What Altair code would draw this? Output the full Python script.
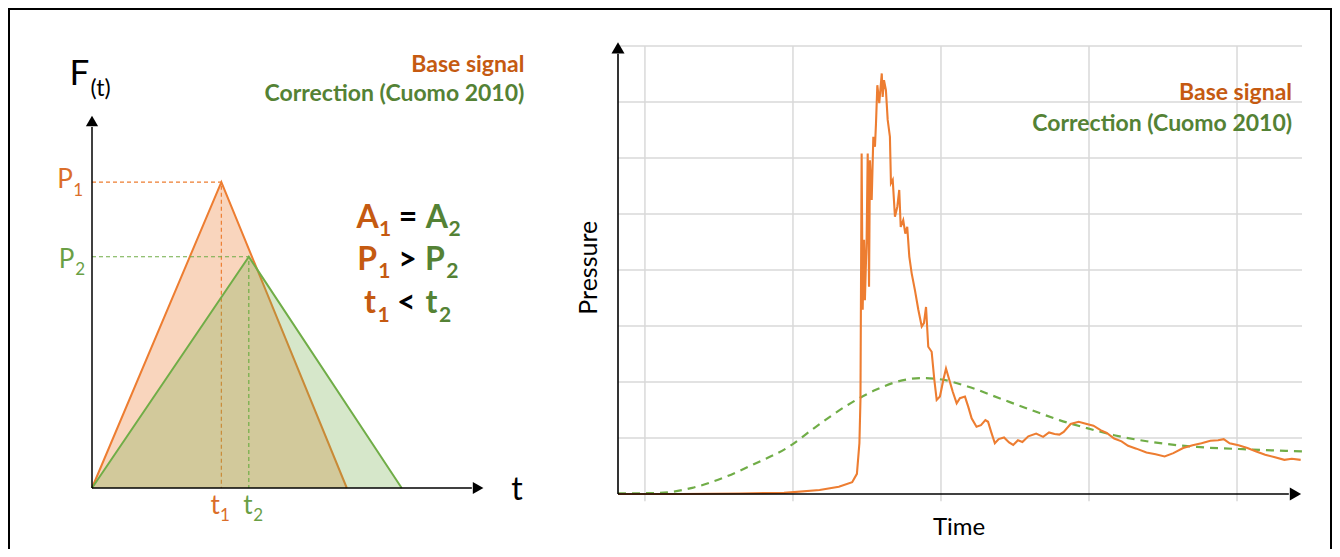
import altair as alt
import pandas as pd

# ---------------- data ----------------
# Left schematic (arbitrary units): triangular loads
base_tri_t = [0, 33, 65]
base_tri_f = [0, 82, 0]
corr_tri_t = [0, 40, 79]
corr_tri_f = [0, 62, 0]
P1, T1 = 82, 33
P2, T2 = 62, 40

# Right panel: pressure-time history (arbitrary units)
sig_t = [8.18, 12.4, 16.4, 19.4, 21.8, 23.1, 24.0, 24.32, 24.49, 24.56, 24.64, 24.71, 24.8, 24.86,
         24.98, 25.05, 25.14, 25.2, 25.32, 25.43, 25.54, 25.61, 25.7, 25.83, 26.0, 26.06, 26.15,
         26.28, 26.4, 26.55, 26.62, 26.74, 26.89, 27.05, 27.18, 27.28, 27.45, 27.59, 27.72, 27.86,
         28.02, 28.24, 28.47, 28.7, 28.85, 28.99, 29.14, 29.37, 29.55, 29.71, 29.93, 30.16, 30.34,
         30.56, 30.79, 31.06, 31.28, 31.62, 31.84, 32.07, 32.4, 32.7, 33.0, 33.18, 33.4, 33.64,
         33.9, 34.26, 34.6, 34.88, 35.2, 35.5, 35.9, 36.43, 36.9, 37.3, 37.67, 38.0, 38.29, 38.76,
         39.3, 39.85, 40.3, 40.78, 41.2, 41.7, 42.2, 42.64, 43.2, 43.88, 44.5, 45.11, 45.7, 46.36,
         47.0, 47.6, 48.2, 48.72, 49.1, 49.5, 50.1, 50.7, 51.3, 51.9, 52.5, 53.2, 53.7, 54.3]
sig_p = [0, 0, 0.1, 0.2, 0.7, 1.3, 2.1, 3.6, 9.1, 16.8, 60.8, 32.9, 45.4, 34.6, 45.9, 60.8, 37.0,
         59.6, 52.5, 63.8, 62.0, 66.2, 73.0, 69.8, 75.1, 70.9, 73.9, 72.1, 66.8, 63.8, 55.5, 56.1,
         49.5, 51.3, 54.3, 47.7, 48.9, 46.5, 47.7, 42.4, 39.4, 36.4, 32.9, 29.9, 30.5, 33.4, 26.3,
         25.4, 20.4, 16.8, 17.4, 20.4, 22.4, 20.4, 18.3, 16.2, 17.1, 17.4, 15.6, 13.5, 12.0, 12.3,
         13.2, 12.9, 11.0, 9.05, 9.8, 10.1, 9.2, 8.75, 9.6, 9.3, 10.3, 10.8, 10.2, 11.0, 10.7,
         10.6, 11.1, 12.5, 12.9, 12.5, 12.2, 11.4, 10.9, 9.9, 9.4, 8.6, 8.1, 7.4, 7.1, 6.7, 7.3,
         8.2, 8.7, 9.05, 9.5, 9.6, 9.8, 9.05, 8.7, 8.2, 7.6, 7.0, 6.6, 6.1, 6.3, 6.1]
cor_t = [8.18, 11.0, 13.2, 15.3, 17.5, 19.7, 21.55, 23.7, 25.6, 27.1, 28.7, 29.9, 31.8, 33.95,
         36.1, 38.0, 39.8, 41.7, 44.2, 47.3, 50.4, 54.39]
cor_p = [0.1, 0.2, 1.1, 2.9, 5.5, 8.4, 12.0, 15.9, 18.6, 20.1, 20.7, 20.5, 19.2, 17.1, 15.0, 13.2,
         11.8, 10.5, 9.3, 8.4, 8.0, 7.6]
grid_t = [10, 20, 30, 40, 50]
grid_p = [10, 20, 30, 40, 50, 60, 70, 80]

# ---------------- styling ----------------
W, H = 1324, 541
FONT = "Lato"
OR_LINE, GR_LINE = "#ED7D31", "#70AD47"
OR_TXT, GR_TXT = "#C55A11", "#548235"
OR_LBL, GR_LBL = "#DB6E2A", "#6A9F45"
GRID = "#D9D9D9"

LXS = alt.Scale(domain=[0, 100], range=[84, 476], nice=False, zero=False)
LYS = alt.Scale(domain=[0, 100], range=[480, 107], nice=False, zero=False)
RXS = alt.Scale(domain=[8.18, 54.39], range=[610, 1294], nice=False, zero=False)
RYS = alt.Scale(domain=[0, 80], range=[486, 38], nice=False, zero=False)


def sx(panel, f="x"):
    return alt.X(f, type="quantitative", scale=LXS if panel == "L" else RXS, axis=None)


def sy(panel, f="y"):
    return alt.Y(f, type="quantitative", scale=LYS if panel == "L" else RYS, axis=None)


def df(**cols):
    return pd.DataFrame(cols)


def text(panel, x, y, s, color, size, weight="normal", align="center",
         baseline="alphabetic", angle=0, font=FONT):
    kw = dict(color=color, fontSize=size, fontWeight=weight, align=align,
              baseline=baseline, font=font)
    if angle:
        kw["angle"] = angle
    return alt.Chart(df(x=[x], y=[y], s=[s])).mark_text(**kw).encode(
        x=sx(panel), y=sy(panel), text="s:N")


layers = []

# frame (three sides visible)
one = df(a=[0])
layers.append(alt.Chart(one).mark_rule(color="black", strokeWidth=2).encode(
    x=alt.value(1), y=alt.value(0), y2=alt.value(H)))
layers.append(alt.Chart(one).mark_rule(color="black", strokeWidth=2).encode(
    x=alt.value(0), x2=alt.value(W), y=alt.value(1)))
layers.append(alt.Chart(one).mark_rule(color="black", strokeWidth=2).encode(
    x=alt.value(W - 1), y=alt.value(0), y2=alt.value(H)))

# ---------------- right panel ----------------
layers.append(alt.Chart(df(x=grid_t, y=[-1.3] * len(grid_t), y2=[80] * len(grid_t)))
              .mark_rule(color=GRID, strokeWidth=1.5)
              .encode(x=sx("R"), y=sy("R"), y2="y2"))
layers.append(alt.Chart(df(y=grid_p, x=[8.18] * len(grid_p), x2=[54.39] * len(grid_p)))
              .mark_rule(color=GRID, strokeWidth=1.5)
              .encode(y=sy("R"), x=sx("R"), x2="x2"))
layers.append(alt.Chart(df(x=cor_t, y=cor_p))
              .mark_line(color=GR_LINE, strokeWidth=2.2, strokeDash=[8, 6], interpolate="monotone")
              .encode(x=sx("R"), y=sy("R")))
layers.append(alt.Chart(df(x=sig_t, y=sig_p))
              .mark_line(color=OR_LINE, strokeWidth=2.1)
              .encode(x=sx("R"), y=sy("R")))
# right axes with arrows
layers.append(alt.Chart(df(x=[8.18], y=[0], y2=[78.6])).mark_rule(color="black", strokeWidth=1.6)
              .encode(x=sx("R"), y=sy("R"), y2="y2"))
layers.append(alt.Chart(df(y=[0], x=[8.18], x2=[53.5])).mark_rule(color="black", strokeWidth=1.6)
              .encode(y=sy("R"), x=sx("R"), x2="x2"))
layers.append(alt.Chart(df(x=[8.18], y=[79.65])).mark_point(shape="triangle-up", filled=True,
              color="black", opacity=1, size=170).encode(x=sx("R"), y=sy("R")))
layers.append(alt.Chart(df(x=[53.95], y=[0])).mark_point(shape="triangle-right", filled=True,
              color="black", opacity=1, size=170).encode(x=sx("R"), y=sy("R")))

layers.append(text("R", 53.72, 70.3, "Base signal", OR_TXT, 23, "bold", align="right"))
layers.append(text("R", 53.72, 64.9, "Correction (Cuomo 2010)", GR_TXT, 23, "bold", align="right"))
layers.append(text("R", 6.2, 40.4, "Pressure", "black", 25, align="center", baseline="middle", angle=270))
layers.append(text("R", 31.22, -6.1, "Time", "black", 24, align="center", baseline="middle"))

# ---------------- left panel ----------------
layers.append(alt.Chart(df(x=base_tri_t, y=base_tri_f))
              .mark_area(color=OR_LINE, opacity=0.32, line=False)
              .encode(x=sx("L"), y=sy("L")))
layers.append(alt.Chart(df(x=base_tri_t, y=base_tri_f))
              .mark_line(color=OR_LINE, strokeWidth=2)
              .encode(x=sx("L"), y=sy("L")))
layers.append(alt.Chart(df(x=[0, T1, T1], y=[P1, P1, 0], o=[0, 1, 2]))
              .mark_line(color=OR_LINE, strokeWidth=1.2, strokeDash=[4, 3])
              .encode(x=sx("L"), y=sy("L"), order="o:Q"))
layers.append(alt.Chart(df(x=corr_tri_t, y=corr_tri_f))
              .mark_area(color=GR_LINE, opacity=0.29, line=False)
              .encode(x=sx("L"), y=sy("L")))
layers.append(alt.Chart(df(x=corr_tri_t, y=corr_tri_f))
              .mark_line(color=GR_LINE, strokeWidth=2)
              .encode(x=sx("L"), y=sy("L")))
layers.append(alt.Chart(df(x=[0, T2, T2], y=[P2, P2, 0], o=[0, 1, 2]))
              .mark_line(color=GR_LINE, strokeWidth=1.2, strokeDash=[4, 3])
              .encode(x=sx("L"), y=sy("L"), order="o:Q"))
# left axes with arrows
layers.append(alt.Chart(df(x=[0], y=[0], y2=[96.8])).mark_rule(color="black", strokeWidth=1.5)
              .encode(x=sx("L"), y=sy("L"), y2="y2"))
layers.append(alt.Chart(df(y=[0], x=[0], x2=[96.9])).mark_rule(color="black", strokeWidth=1.5)
              .encode(y=sy("L"), x=sx("L"), x2="x2"))
layers.append(alt.Chart(df(x=[0], y=[98.4])).mark_point(shape="triangle-up", filled=True,
              color="black", opacity=1, size=150).encode(x=sx("L"), y=sy("L")))
layers.append(alt.Chart(df(x=[98.5], y=[0])).mark_point(shape="triangle-right", filled=True,
              color="black", opacity=1, size=150).encode(x=sx("L"), y=sy("L")))

# axis labels
layers.append(text("L", -3.2, 108.0, "F", "black", 35))
layers.append(text("L", 2.2, 105.2, "(t)", "black", 23))
layers.append(text("L", 108.4, -3.2, "t", "black", 32))
# P and t labels
layers.append(text("L", -6.9, 80.4, "P", OR_LBL, 26))
layers.append(text("L", -3.5, 78.4, "1", OR_LBL, 17))
layers.append(text("L", -6.5, 59.0, "P", GR_LBL, 26))
layers.append(text("L", -3.0, 57.2, "2", GR_LBL, 17))
layers.append(text("L", 31.4, -6.9, "t", OR_LBL, 26))
layers.append(text("L", 33.9, -8.8, "1", OR_LBL, 17))
layers.append(text("L", 39.8, -6.9, "t", GR_LBL, 26))
layers.append(text("L", 42.4, -8.8, "2", GR_LBL, 17))
# legend
layers.append(text("L", 110.3, 111.5, "Base signal", OR_TXT, 23, "bold", align="right"))
layers.append(text("L", 110.3, 103.8, "Correction (Cuomo 2010)", GR_TXT, 23, "bold", align="right"))
# equations
eq = [
    (70.3, 69.8, "A", OR_TXT, 32), (74.8, 67.6, "1", OR_TXT, 21), (80.6, 69.8, "=", "black", 32),
    (88.0, 69.8, "A", GR_TXT, 32), (92.5, 67.6, "2", GR_TXT, 21),
    (70.2, 58.5, "P", OR_TXT, 32), (74.6, 56.2, "1", OR_TXT, 21), (80.5, 58.5, ">", "black", 32),
    (87.5, 58.5, "P", GR_TXT, 32), (91.9, 56.2, "2", GR_TXT, 21),
    (70.9, 46.8, "t", OR_TXT, 32), (74.4, 44.5, "1", OR_TXT, 21), (80.2, 46.8, "<", "black", 32),
    (86.6, 46.8, "t", GR_TXT, 32), (90.1, 44.5, "2", GR_TXT, 21),
]
for x, y, s, c, fs in eq:
    layers.append(text("L", x, y, s, c, fs, "bold"))

chart = (alt.layer(*layers)
         .resolve_scale(x="independent", y="independent")
         .properties(width=W, height=H, autosize=alt.AutoSizeParams(type="none"), padding=0,
                     background="white")
         .configure_view(stroke=None))

chart.save("out.html", embed_options={"renderer": "svg", "actions": False})
